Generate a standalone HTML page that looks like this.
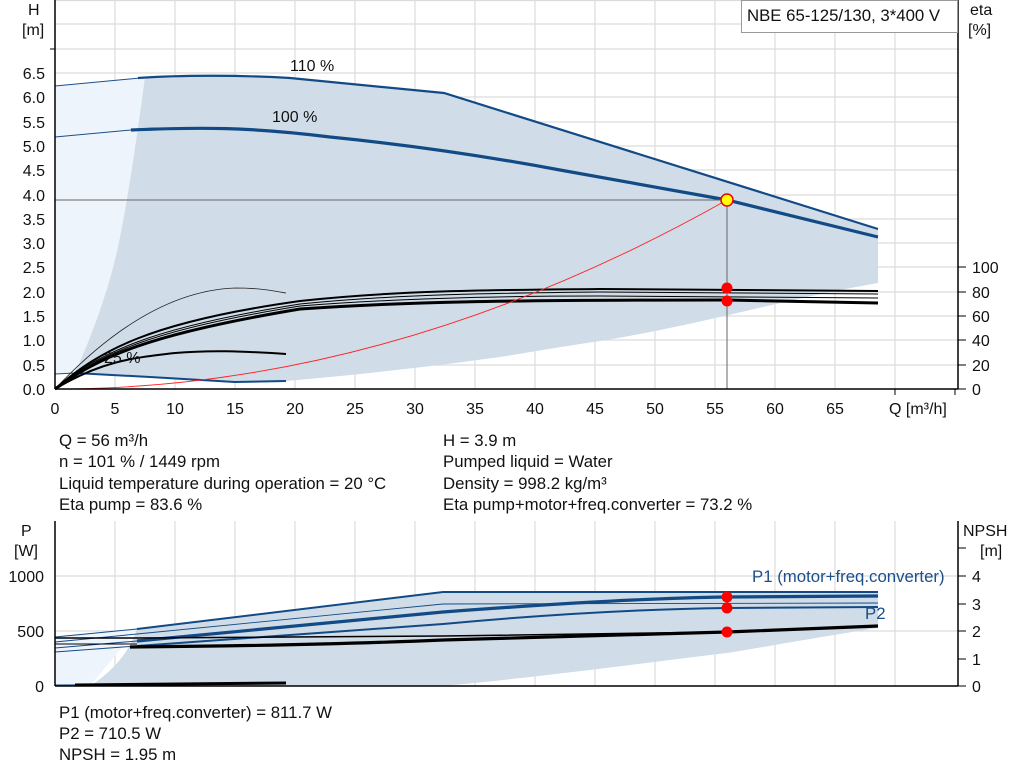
<!DOCTYPE html>
<html><head><meta charset="utf-8"><style>
body{margin:0;background:#fff;width:1024px;height:781px;overflow:hidden}
svg{position:absolute;left:0;top:0}
text{font-family:"Liberation Sans",Arial,sans-serif;font-size:16px;fill:#111}
.i{font-size:16.8px}
</style></head><body>
<svg width="1024" height="781" viewBox="0 0 1024 781">
<g stroke="#dcdcdc" stroke-width="1.2">
<line x1="115" y1="0" x2="115" y2="389"/><line x1="175" y1="0" x2="175" y2="389"/><line x1="235" y1="0" x2="235" y2="389"/><line x1="295" y1="0" x2="295" y2="389"/><line x1="355" y1="0" x2="355" y2="389"/><line x1="415" y1="0" x2="415" y2="389"/><line x1="475" y1="0" x2="475" y2="389"/><line x1="535" y1="0" x2="535" y2="389"/><line x1="595" y1="0" x2="595" y2="389"/><line x1="655" y1="0" x2="655" y2="389"/><line x1="715" y1="0" x2="715" y2="389"/><line x1="775" y1="0" x2="775" y2="389"/><line x1="835" y1="0" x2="835" y2="389"/><line x1="895" y1="0" x2="895" y2="389"/>
<line x1="55" y1="365" x2="958" y2="365"/><line x1="55" y1="340" x2="958" y2="340"/><line x1="55" y1="316" x2="958" y2="316"/><line x1="55" y1="292" x2="958" y2="292"/><line x1="55" y1="267" x2="958" y2="267"/><line x1="55" y1="243" x2="958" y2="243"/><line x1="55" y1="219" x2="958" y2="219"/><line x1="55" y1="195" x2="958" y2="195"/><line x1="55" y1="170" x2="958" y2="170"/><line x1="55" y1="146" x2="958" y2="146"/><line x1="55" y1="122" x2="958" y2="122"/><line x1="55" y1="97" x2="958" y2="97"/><line x1="55" y1="73" x2="958" y2="73"/><line x1="55" y1="49" x2="958" y2="49"/><line x1="55" y1="24" x2="958" y2="24"/><line x1="55" y1="0.5" x2="958" y2="0.5"/>
</g>
<path d="M55,86 L145,77 C138,130 125,220 115,260 C100,320 88,355 76,373 L55,374 Z" fill="#eef4fb"/>
<path d="M145,77 L175,76 L235,76 L290,78 L444,93 L878,229 L878,283 C780,300 700,325 600,341 C540,350 520,354 500,357 C420,368 355,375 286,381 L235,382 L150,377 L75,373 C90,340 105,300 115,260 C125,220 138,130 145,77 Z" fill="#d0dce7"/>
<path d="M55,86 L140,78" stroke="#1b4f8a" stroke-width="1" fill="none"/>
<path d="M138,78 C180,75 240,75 290,78 L444,93 L878,229" stroke="#124a86" stroke-width="2.2" fill="none"/>
<path d="M55,137 L131,130" stroke="#1b4f8a" stroke-width="1" fill="none"/>
<path d="M131,130 C200,127 250,127 330,137 C400,144 480,155 560,170 L727,200 L878,237" stroke="#124a86" stroke-width="3.2" fill="none"/>
<path d="M55,374 L75,373" stroke="#1b4f8a" stroke-width="1" fill="none"/>
<path d="M75,373 L150,377 L235,382 L286,381" stroke="#124a86" stroke-width="2" fill="none"/>
<path d="M55,389 C120,320 180,290 235,288 C260,288 275,291 286,293" stroke="#222" stroke-width="0.8" fill="none"/>
<path d="M55,389 C100,350 150,322 300,301 C400,290 500,290 600,289 L878,291" stroke="#000" stroke-width="2" fill="none"/>
<path d="M55,389 C100,352 150,328 300,304 C400,294 500,293 600,292 L878,294" stroke="#000" stroke-width="1" fill="none"/>
<path d="M55,389 C100,354 150,330 300,306 C400,298 500,296 600,296 L878,298" stroke="#000" stroke-width="1" fill="none"/>
<path d="M55,389 C100,356 150,334 300,309 C400,302 500,300 727,300 L878,303" stroke="#000" stroke-width="3" fill="none"/>
<path d="M55,389 C100,362 130,358 175,353 C210,350 240,351 286,354" stroke="#000" stroke-width="2" fill="none"/>
<path d="M55,389 Q391,389 727,200" stroke="#f22" stroke-width="0.9" fill="none"/>
<line x1="55" y1="200" x2="727" y2="200" stroke="#666" stroke-width="1"/>
<line x1="727" y1="200" x2="727" y2="389" stroke="#666" stroke-width="1"/>
<circle cx="727" cy="200" r="6" fill="#ff0" stroke="#e00" stroke-width="1.5"/>
<circle cx="727" cy="288" r="5.5" fill="#f00"/>
<circle cx="727" cy="301" r="5.5" fill="#f00"/>
<g stroke="#000" stroke-width="1.5">
<line x1="55" y1="0" x2="55" y2="389"/><line x1="55" y1="389" x2="958" y2="389"/><line x1="958" y1="0" x2="958" y2="389"/>
</g>
<g stroke="#000" stroke-width="1">
<line x1="50" y1="49" x2="55" y2="49"/>
<line x1="958" y1="389" x2="966" y2="389"/><line x1="958" y1="365" x2="966" y2="365"/><line x1="958" y1="340" x2="966" y2="340"/><line x1="958" y1="316" x2="966" y2="316"/><line x1="958" y1="292" x2="966" y2="292"/><line x1="958" y1="267" x2="966" y2="267"/>
<line x1="955" y1="389" x2="955" y2="395"/><line x1="895" y1="389" x2="895" y2="395"/>
</g>
<g text-anchor="end">
<text x="45" y="395">0.0</text><text x="45" y="371">0.5</text><text x="45" y="346">1.0</text><text x="45" y="322">1.5</text><text x="45" y="298">2.0</text><text x="45" y="273">2.5</text><text x="45" y="249">3.0</text><text x="45" y="225">3.5</text><text x="45" y="201">4.0</text><text x="45" y="176">4.5</text><text x="45" y="152">5.0</text><text x="45" y="128">5.5</text><text x="45" y="103">6.0</text><text x="45" y="79">6.5</text>
</g>
<g>
<text x="972" y="395">0</text><text x="972" y="371">20</text><text x="972" y="346">40</text><text x="972" y="322">60</text><text x="972" y="298">80</text><text x="972" y="273">100</text>
</g>
<g text-anchor="middle">
<text x="55" y="414">0</text><text x="115" y="414">5</text><text x="175" y="414">10</text><text x="235" y="414">15</text><text x="295" y="414">20</text><text x="355" y="414">25</text><text x="415" y="414">30</text><text x="475" y="414">35</text><text x="535" y="414">40</text><text x="595" y="414">45</text><text x="655" y="414">50</text><text x="715" y="414">55</text><text x="775" y="414">60</text><text x="835" y="414">65</text>
</g>
<text x="889" y="414">Q [m³/h]</text>
<text x="28" y="15">H</text><text x="22" y="35">[m]</text>
<text x="970" y="15">eta</text><text x="968" y="35">[%]</text>
<text x="290" y="71">110 %</text><text x="272" y="122">100 %</text><text x="104" y="363">25 %</text>
<rect x="741.5" y="0.5" width="216" height="32" fill="#fff" stroke="#999"/>
<text x="747" y="21" class="i">NBE 65-125/130, 3*400 V</text>
<text class="i" x="59" y="446">Q = 56 m³/h</text>
<text class="i" x="59" y="467">n = 101 % / 1449 rpm</text>
<text class="i" x="59" y="489">Liquid temperature during operation = 20 °C</text>
<text class="i" x="59" y="510">Eta pump = 83.6 %</text>
<text class="i" x="443" y="446">H = 3.9 m</text>
<text class="i" x="443" y="467">Pumped liquid = Water</text>
<text class="i" x="443" y="489">Density = 998.2 kg/m³</text>
<text class="i" x="443" y="510">Eta pump+motor+freq.converter = 73.2 %</text>
<g stroke="#dcdcdc" stroke-width="1.2">
<line x1="115" y1="521" x2="115" y2="686"/><line x1="175" y1="521" x2="175" y2="686"/><line x1="235" y1="521" x2="235" y2="686"/><line x1="295" y1="521" x2="295" y2="686"/><line x1="355" y1="521" x2="355" y2="686"/><line x1="415" y1="521" x2="415" y2="686"/><line x1="475" y1="521" x2="475" y2="686"/><line x1="535" y1="521" x2="535" y2="686"/><line x1="595" y1="521" x2="595" y2="686"/><line x1="655" y1="521" x2="655" y2="686"/><line x1="715" y1="521" x2="715" y2="686"/><line x1="775" y1="521" x2="775" y2="686"/><line x1="835" y1="521" x2="835" y2="686"/><line x1="895" y1="521" x2="895" y2="686"/>
<line x1="55" y1="631" x2="958" y2="631"/><line x1="55" y1="576" x2="958" y2="576"/>
</g>
<path d="M55,686 L55,637 L137,629 L90,686 Z" fill="#eef4fb"/>
<path d="M137,629 L443,592 L878,592 L878,628 C800,640 760,648 727,653 C650,662 560,675 443,686 L90,686 C115,670 130,650 137,629 Z" fill="#d0dce7"/>
<path d="M55,637 L137,629" stroke="#124a86" stroke-width="1" fill="none"/>
<path d="M137,629 L443,592 L878,592" stroke="#124a86" stroke-width="2" fill="none"/>
<path d="M55,642 L137,634 L443,604 L878,603" stroke="#124a86" stroke-width="0.9" fill="none"/>
<path d="M55,648 L137,641" stroke="#124a86" stroke-width="1" fill="none"/>
<path d="M137,641 C250,630 350,620 443,612 C550,604 650,598 727,597 L878,596" stroke="#124a86" stroke-width="3.2" fill="none"/>
<path d="M55,652 L137,646" stroke="#124a86" stroke-width="1" fill="none"/>
<path d="M137,646 C250,637 350,630 443,624 C550,614 650,609 727,608 L878,607" stroke="#124a86" stroke-width="2" fill="none"/>
<path d="M55,638 L137,638 L443,636 L727,632" stroke="#000" stroke-width="1.5" fill="none"/>
<path d="M55,644 L137,644" stroke="#000" stroke-width="1" fill="none"/>
<path d="M130,647 C250,646 350,644 443,640 C550,637 650,634 727,632 L878,626" stroke="#000" stroke-width="3.2" fill="none"/>
<path d="M55,685 L286,684" stroke="#124a86" stroke-width="1" fill="none"/>
<path d="M75,685 L286,683" stroke="#000" stroke-width="3" fill="none"/>
<circle cx="727" cy="597" r="5.5" fill="#f00"/>
<circle cx="727" cy="608" r="5.5" fill="#f00"/>
<circle cx="727" cy="632" r="5.5" fill="#f00"/>
<g stroke="#000" stroke-width="1.5">
<line x1="55" y1="521" x2="55" y2="686"/><line x1="55" y1="686" x2="958" y2="686"/><line x1="958" y1="521" x2="958" y2="686"/>
</g>
<g stroke="#000" stroke-width="1">
<line x1="958" y1="686" x2="966" y2="686"/><line x1="958" y1="659" x2="966" y2="659"/><line x1="958" y1="631" x2="966" y2="631"/><line x1="958" y1="604" x2="966" y2="604"/><line x1="958" y1="576" x2="966" y2="576"/><line x1="958" y1="548" x2="966" y2="548"/>
</g>
<g text-anchor="end">
<text x="44" y="692">0</text><text x="44" y="637">500</text><text x="44" y="582">1000</text>
</g>
<text x="972" y="692">0</text><text x="972" y="665">1</text><text x="972" y="637">2</text><text x="972" y="610">3</text><text x="972" y="582">4</text>
<text x="21" y="536">P</text><text x="14" y="556">[W]</text>
<text x="963" y="536">NPSH</text><text x="980" y="556">[m]</text>
<text x="752" y="582" style="fill:#1b4f8a" class="i">P1 (motor+freq.converter)</text>
<text x="865" y="619" style="fill:#1b4f8a" class="i">P2</text>
<text class="i" x="59" y="718">P1 (motor+freq.converter) = 811.7 W</text>
<text class="i" x="59" y="739">P2 = 710.5 W</text>
<text class="i" x="59" y="760">NPSH = 1.95 m</text>
</svg>
</body></html>
